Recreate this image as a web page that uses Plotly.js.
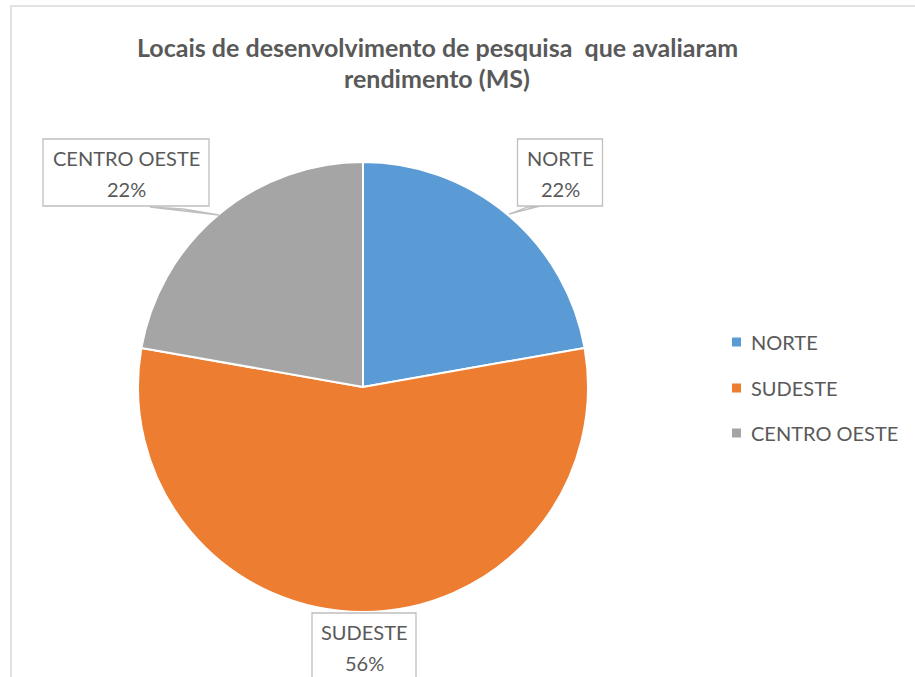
<!DOCTYPE html>
<html>
<head>
<meta charset="utf-8">
<script src="https://cdn.plot.ly/plotly-3.0.1.min.js"></script>
<style>html,body{margin:0;padding:0;background:#fff;}#chart{width:915px;height:677px;}</style>
</head>
<body>
<div id="chart"></div>
<script>
const labels = ["NORTE", "SUDESTE", "CENTRO OESTE"];
const values = [2, 5, 2];
const colors = ["#5B9BD5", "#ED7D31", "#A5A5A5"];
const titleLines = ["Locais de desenvolvimento de pesquisa  que avaliaram", "rendimento (MS)"];

const W = 915, H = 677;
const px = x => x / W;
const py = y => 1 - y / H;
const FONT = "Lato, 'Liberation Sans', sans-serif";
const TXT = "#595959";

const total = values.reduce((a, b) => a + b, 0);
const pct = values.map(v => Math.round(v / total * 100) + "%");

// pie geometry (pixels)
const cx = 363, cy = 387, R = 225;

const trace = {
  type: "pie",
  labels: labels,
  values: values,
  sort: false,
  direction: "clockwise",
  rotation: 0,
  marker: { colors: colors, line: { color: "#ffffff", width: 2 } },
  textinfo: "none",
  hoverinfo: "label+percent",
  showlegend: false,
  domain: { x: [px(cx - R), px(cx + R)], y: [py(cy + R), py(cy - R)] }
};

const annotations = [];
const shapes = [];

// data-label boxes: [x0, y0, x1, y1] in pixels, text line centers
const boxes = [
  { x0: 517.5, y0: 139, x1: 602.5, y1: 206, cxT: 560, l1: 158, l2: 189 },
  { x0: 312, y0: 613, x1: 416, y1: 690, cxT: 364, l1: 632, l2: 663 },
  { x0: 43, y0: 139, x1: 209, y1: 206, cxT: 126, l1: 158, l2: 189 }
];

// callout leader lines (drawn under boxes)
const leaders = [
  [[509, 214], [528, 207], [540, 206]],
  [[219, 215], [183, 209], [150, 207]]
];
leaders.forEach(pts => {
  const path = pts.map((p, i) => (i ? "L " : "M ") + px(p[0]) + "," + py(p[1])).join(" ") + " Z";
  shapes.push({ type: "path", xref: "paper", yref: "paper", path: path,
    line: { color: "#bfbfbf", width: 1.3 }, fillcolor: "#ffffff" });
});

labels.forEach((l, i) => {
  const b = boxes[i];
  shapes.push({
    type: "rect", xref: "paper", yref: "paper",
    x0: px(b.x0), x1: px(b.x1), y0: py(b.y1), y1: py(b.y0),
    line: { color: "#bfbfbf", width: 1.3 }, fillcolor: "#ffffff"
  });
  annotations.push({
    xref: "paper", yref: "paper", x: px(b.cxT), y: py(b.l1),
    xanchor: "center", yanchor: "middle", showarrow: false,
    text: l, font: { family: FONT, size: 20, color: TXT }
  });
  annotations.push({
    xref: "paper", yref: "paper", x: px(b.cxT), y: py(b.l2),
    xanchor: "center", yanchor: "middle", showarrow: false,
    text: pct[i], font: { family: FONT, size: 20, color: TXT }
  });
});

// custom legend
const legY = [342, 388, 433];
labels.forEach((l, i) => {
  shapes.push({
    type: "rect", xref: "paper", yref: "paper",
    x0: px(732), x1: px(741), y0: py(legY[i] + 4.5), y1: py(legY[i] - 4.5),
    fillcolor: colors[i], line: { width: 0 }
  });
  annotations.push({
    xref: "paper", yref: "paper", x: px(749), y: py(legY[i]),
    xanchor: "left", yanchor: "middle", showarrow: false,
    text: l, font: { family: FONT, size: 20, color: TXT }
  });
});

// outer chart border
shapes.push({
  type: "rect", xref: "paper", yref: "paper",
  x0: px(11), x1: px(917), y0: py(690), y1: py(6),
  line: { color: "#d9d9d9", width: 1.5 }, fillcolor: "rgba(0,0,0,0)", layer: "below"
});

// title
const titleY = [47, 78];
titleLines.forEach((t, i) => {
  annotations.push({
    xref: "paper", yref: "paper", x: px(437), y: py(titleY[i]),
    xanchor: "center", yanchor: "middle", showarrow: false,
    text: "<b>" + t + "</b>",
    font: { family: FONT, size: 25, color: TXT }
  });
});

const layout = {
  width: W, height: H,
  margin: { l: 0, r: 0, t: 0, b: 0 },
  paper_bgcolor: "#ffffff",
  showlegend: false,
  annotations: annotations,
  shapes: shapes
};

Plotly.newPlot("chart", [trace], layout, { displayModeBar: false, staticPlot: true });
</script>
</body>
</html>
